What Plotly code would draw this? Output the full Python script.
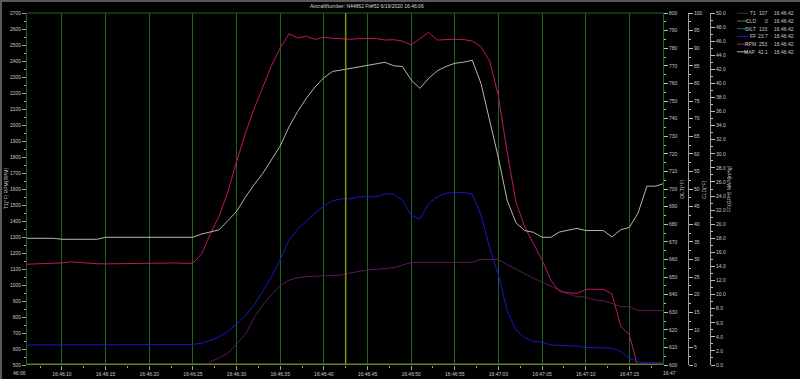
import plotly.graph_objects as go
from datetime import datetime, timedelta

# ---------------- data ----------------
start = datetime(2020, 6, 19, 16, 46, 6)
seconds = list(range(74))
times = [start + timedelta(seconds=s) for s in seconds]

rpm = [1130, 1132, 1135, 1135, 1138, 1145, 1140, 1135, 1133, 1132,
       1133, 1134, 1135, 1136, 1135, 1136, 1137, 1138, 1136, 1136,
       1195, 1320, 1430, 1580, 1770, 1945, 2100, 2240, 2370, 2480,
       2570, 2545, 2555, 2535, 2548, 2542, 2538,
       2536, 2540, 2542, 2540, 2531, 2533, 2525, 2500, 2540, 2579,
       2531, 2535, 2536, 2534, 2525, 2490, 2400,
       2180, 1830, 1520, 1364, 1260, 1156, 1030, 958, 952, 948,
       973, 973, 973, 944, 744, 688, 480, 420, 420, 420]

t1 = [420, 420, 420, 420, 420, 420, 420, 420, 420, 420,
      420, 420, 420, 420, 420, 420, 420, 420, 420, 420,
      440, 520, 545, 572, 630, 690, 795, 875, 940, 995,
      1030, 1045, 1052, 1054, 1056, 1060, 1062,
      1075, 1085, 1094, 1098, 1103, 1108, 1125, 1140, 1142, 1142,
      1142, 1142, 1142, 1142, 1142, 1160, 1160,
      1160, 1127, 1098, 1069, 1043, 1017, 993, 969, 945, 927,
      925, 906, 902, 885, 865, 865, 840, 840, 840, 840]

ff = [2.85, 2.85, 2.8, 2.85, 2.9, 2.9, 2.9, 2.9, 2.85, 2.8,
      2.85, 2.9, 2.9, 2.85, 2.85, 2.9, 2.9, 2.85, 2.9,
      2.92, 3.1, 3.5, 4.0, 4.8, 5.8, 7.0, 8.5, 10.5, 12.5,
      15.0, 17.7, 19.3, 20.5, 21.6, 22.6, 23.3, 23.6,
      23.6, 23.9, 23.9, 23.9, 24.3, 24.3, 23.4, 21.3, 20.7, 22.9,
      23.9, 24.4, 24.5, 24.5, 24.3, 21.3, 16.6,
      12.8, 7.7, 5.0, 3.9, 3.35, 3.25, 2.84, 2.8, 2.8, 2.7,
      2.5, 2.5, 2.5, 2.4, 1.9, 0.95, 0.47, 0.33, 0.33, 0.33]

map_inhg = [18.0, 18.0, 18.0, 18.0, 17.86, 17.86, 17.86, 17.86, 17.86, 18.14,
            18.14, 18.14, 18.14, 18.14, 18.14, 18.14, 18.14, 18.14, 18.14, 18.14,
            18.6, 18.94, 19.2, 20.5, 21.8, 23.8, 25.6, 27.2, 29.2, 31.1,
            33.8, 36.0, 37.9, 39.5, 40.8, 41.7, 41.9,
            42.1, 42.4, 42.6, 42.8, 43.0, 42.5, 42.4, 40.5, 39.3, 40.7,
            41.8, 42.4, 42.86, 43.0, 43.3, 40.0, 34.5,
            29.4, 23.4, 20.2, 19.1, 18.85, 18.14, 18.14, 18.9, 19.2, 19.4,
            19.1, 19.1, 19.1, 18.2, 19.2, 19.55, 21.6, 25.4, 25.4, 25.8]

cld = [0, 0, 0, 0, 0, 0, 0, 0, 0, 0, 0, 0, 0, 0, 0, 0, 0, 0, 0, 0,
       0, 0, 0, 0, 0, 0, 0, 0, 0, 0, 0, 0, 0, 0, 0, 0, 0, 0, 0, 0,
       0, 0, 0, 0, 0, 0, 0, 0, 0, 0, 0, 0, 0, 0, 0, 0, 0, 0, 0, 0,
       0, 0, 0, 0, 0, 0, 0, 0, 0, 0, 0, 0, 0, 0]

oilt = [133, 133, 133, 133, 133, 133, 133, 133, 133, 133, 133, 133, 133, 133,
        133, 133, 133, 133, 133, 133, 133, 133, 133, 133, 133, 133, 133, 133,
        133, 133, 133, 133, 133, 133, 133, 133, 133, 133, 133, 133, 133, 133,
        133, 133, 133, 133, 133, 133, 133, 133, 133, 133, 133, 133, 133, 133,
        133, 133, 133, 133, 133, 133, 133, 133, 133, 133, 133, 133, 133, 133,
        133, 133, 133, 133]

legend_names = ["T1", "CLD", "OILT", "FF", "RPM", "MAP"]
legend_values = ["107", "0", "133", "23.7", "253", "42.1"]
legend_time = "16:46:42"
cursor_time = "2020-06-19 16:46:42.5"
title_text = "AircraftNumber: N44862 Flt#52 6/19/2020 16:46:06"

# ---------------- style ----------------
W, H = 800, 379
ML, MR, MT, MB = 27, 10, 13, 14
PW = W - ML - MR
PH = H - MT - MB

def px(x):
    return (x - ML) / PW

def py(y):
    return (H - MB - y) / PH

FONT = "Liberation Sans"
FS = 5
TXT = "#c8c8c8"
GREEN = "#1e641e"

col = {"T1": "#5a1a5a", "CLD": "#6b7d1e", "OILT": "#1a6e6e",
       "FF": "#1818c8", "RPM": "#c0185e", "MAP": "#bdb6a6"}

x_end = (663 - ML) / PW

fig = go.Figure()
fig.add_trace(go.Scatter(x=times, y=oilt, mode="lines", yaxis="y2",
                         line=dict(color=col["OILT"], width=1), name="OILT"))
fig.add_trace(go.Scatter(x=times, y=cld, mode="lines", yaxis="y3",
                         line=dict(color=col["CLD"], width=3), name="CLD"))
fig.add_trace(go.Scatter(x=times, y=t1, mode="lines", yaxis="y",
                         line=dict(color=col["T1"], width=1), name="T1"))
fig.add_trace(go.Scatter(x=times, y=ff, mode="lines", yaxis="y4",
                         line=dict(color=col["FF"], width=1), name="FF"))
fig.add_trace(go.Scatter(x=times, y=map_inhg, mode="lines", yaxis="y4",
                         line=dict(color=col["MAP"], width=1), name="MAP"))
fig.add_trace(go.Scatter(x=times, y=rpm, mode="lines", yaxis="y",
                         line=dict(color=col["RPM"], width=1), name="RPM"))

tickf = dict(family=FONT, size=FS, color=TXT)

fig.update_layout(
    width=W, height=H,
    margin=dict(l=ML, r=MR, t=MT, b=MB),
    paper_bgcolor="black", plot_bgcolor="black",
    showlegend=False,
    font=dict(family=FONT, size=FS, color=TXT),
    xaxis=dict(
        type="date", domain=[0, x_end],
        range=[start, start + timedelta(seconds=72.85)],
        tick0="2020-06-19 16:46:10", dtick=5000, tickformat="%H:%M:%S",
        showgrid=True, gridcolor=GREEN, gridwidth=1,
        ticks="outside", ticklen=4, tickcolor="#a0a0a0",
        minor=dict(dtick=2500, ticklen=2, tickcolor="#a0a0a0", showgrid=False),
        showline=False, zeroline=False, tickfont=tickf, automargin=False,
    ),
    yaxis=dict(
        range=[500, 2700], dtick=100, showgrid=False, zeroline=False,
        ticks="outside", ticklen=4, tickcolor="#a0a0a0",
        minor=dict(dtick=50, ticklen=2, tickcolor="#a0a0a0"),
        showline=True, linecolor=GREEN, linewidth=1,
        tickfont=tickf, automargin=False,
    ),
    yaxis2=dict(
        overlaying="y", anchor="free", position=x_end, side="right",
        range=[600, 800], dtick=10, showgrid=False, zeroline=False,
        ticks="outside", ticklen=4, tickcolor="#c0c0c0",
        minor=dict(dtick=5, ticklen=2, tickcolor="#c0c0c0"),
        showline=True, linecolor=GREEN, linewidth=1,
        tickfont=tickf, automargin=False,
    ),
    yaxis3=dict(
        overlaying="y", anchor="free", position=px(688), side="right",
        range=[0, 100], dtick=5, showgrid=False, zeroline=False,
        ticks="outside", ticklen=4, tickcolor="#c0c0c0",
        minor=dict(dtick=2.5, ticklen=2, tickcolor="#c0c0c0"),
        showline=True, linecolor="#a0a0a0", linewidth=1,
        tickfont=tickf, automargin=False,
    ),
    yaxis4=dict(
        overlaying="y", anchor="free", position=px(710), side="right",
        range=[0, 50], dtick=2, tickformat=".1f", showgrid=False, zeroline=False,
        ticks="outside", ticklen=4, tickcolor="#c0c0c0",
        minor=dict(dtick=1, ticklen=2, tickcolor="#c0c0c0"),
        showline=True, linecolor="#a0a0a0", linewidth=1,
        tickfont=tickf, automargin=False,
    ),
)

shapes = []
shapes.append(dict(type="line", xref="paper", yref="paper", x0=0, x1=x_end, y0=1, y1=1,
                   line=dict(color=GREEN, width=1)))
shapes.append(dict(type="line", xref="x", yref="paper", x0=cursor_time, x1=cursor_time,
                   y0=0, y1=1, line=dict(color="#8c8c14", width=1.5)))
shapes.append(dict(type="rect", xref="paper", yref="paper", x0=px(0), x1=px(2),
                   y0=py(H), y1=py(0), line=dict(width=0), fillcolor="#5a5a5a"))
shapes.append(dict(type="rect", xref="paper", yref="paper", x0=px(0), x1=px(W),
                   y0=py(2), y1=py(0), line=dict(width=0), fillcolor="#5a5a5a"))

annotations = []
def ann(text, x, y, xanchor="center", angle=0, color=TXT):
    annotations.append(dict(text=text, x=px(x), y=py(y), xref="paper", yref="paper",
                            showarrow=False, xanchor=xanchor, yanchor="middle",
                            textangle=angle, borderpad=0,
                            font=dict(family=FONT, size=FS, color=color)))

ann(title_text, 367, 6, color="#d8d8d8")
ann("T1(°F) RPM(RPM)", 6, 189, angle=-90)
ann("OILT(°F)", 682, 190, angle=-90)
ann("CLD(°F)", 704, 190, angle=-90)
ann("FF(GPH) MAP(inHg)", 729, 189, angle=-90)
ann("46:06", 27, 373, xanchor="right")
ann("16:47", 662, 373, xanchor="left")

for i, (nm, val) in enumerate(zip(legend_names, legend_values)):
    yy = 13.3 + i * 7.7
    shapes.append(dict(type="line", xref="paper", yref="paper", x0=px(737), x1=px(748),
                       y0=py(yy), y1=py(yy), line=dict(color=col[nm], width=1)))
    ann(nm, 757, yy, xanchor="right")
    ann(val, 769, yy, xanchor="right")
    ann(legend_time, 773, yy, xanchor="left")

fig.update_layout(shapes=shapes, annotations=annotations)
fig.write_html("out.html",
               config={"displayModeBar": False},
               post_script="document.body.style.margin='0px';document.body.style.padding='0px';")
